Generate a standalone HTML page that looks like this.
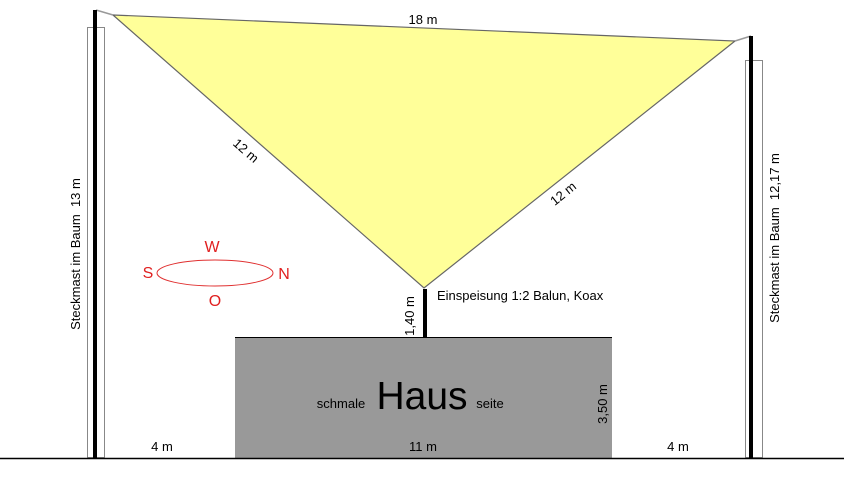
<!DOCTYPE html>
<html><head><meta charset="utf-8"><style>
html,body{margin:0;padding:0;background:#fff;width:844px;height:484px;overflow:hidden}
svg{display:block}
text{font-family:"Liberation Sans",sans-serif;font-size:13px;fill:#000}
</style></head><body>
<svg width="844" height="484" viewBox="0 0 844 484">
<polygon points="113,15 735,41 424,288" fill="#ffff99" stroke="#666" stroke-width="1.2"/>
<line x1="96" y1="10" x2="113" y2="15" stroke="#999" stroke-width="1.5"/>
<line x1="751" y1="36" x2="735" y2="41" stroke="#999" stroke-width="1.5"/>
<rect x="87.5" y="27.5" width="17" height="430" fill="none" stroke="#888" stroke-width="1"/>
<line x1="95" y1="10" x2="95" y2="458" stroke="#000" stroke-width="4"/>
<rect x="745.5" y="60.5" width="17" height="397" fill="none" stroke="#888" stroke-width="1"/>
<line x1="751" y1="36" x2="751" y2="458" stroke="#000" stroke-width="4"/>
<rect x="235" y="337" width="377" height="121" fill="#999"/>
<line x1="235" y1="337.5" x2="612" y2="337.5" stroke="#000" stroke-width="1"/>
<line x1="425" y1="289" x2="425" y2="337" stroke="#000" stroke-width="4"/>
<line x1="0" y1="458.5" x2="844" y2="458.5" stroke="#000" stroke-width="1.5"/>
<text x="423" y="24" text-anchor="middle">18 m</text>
<text transform="translate(243,154) rotate(41)" text-anchor="middle">12 m</text>
<text transform="translate(566,197) rotate(-39)" text-anchor="middle">12 m</text>
<text transform="translate(80,254) rotate(-90)" text-anchor="middle">Steckmast im Baum&#160; 13 m</text>
<text transform="translate(779,238) rotate(-90)" text-anchor="middle">Steckmast im Baum&#160; 12,17 m</text>
<text x="437" y="300">Einspeisung 1:2 Balun, Koax</text>
<text transform="translate(414,316) rotate(-90)" text-anchor="middle">1,40 m</text>
<text transform="translate(607,404) rotate(-90)" text-anchor="middle">3,50 m</text>
<text x="341" y="408" text-anchor="middle">schmale</text>
<text x="422" y="409" text-anchor="middle" style="font-size:39px">Haus</text>
<text x="490" y="408" text-anchor="middle">seite</text>
<text x="162" y="451" text-anchor="middle">4 m</text>
<text x="423" y="451" text-anchor="middle">11 m</text>
<text x="678" y="451" text-anchor="middle">4 m</text>
<ellipse cx="215" cy="273" rx="58" ry="13" fill="none" stroke="#e03030" stroke-width="1"/>
<text x="212" y="252" text-anchor="middle" style="fill:#e02020;font-size:16px">W</text>
<text x="148" y="278" text-anchor="middle" style="fill:#e02020;font-size:16px">S</text>
<text x="284" y="279" text-anchor="middle" style="fill:#e02020;font-size:16px">N</text>
<text x="215" y="306" text-anchor="middle" style="fill:#e02020;font-size:16px">O</text>
</svg>
</body></html>
